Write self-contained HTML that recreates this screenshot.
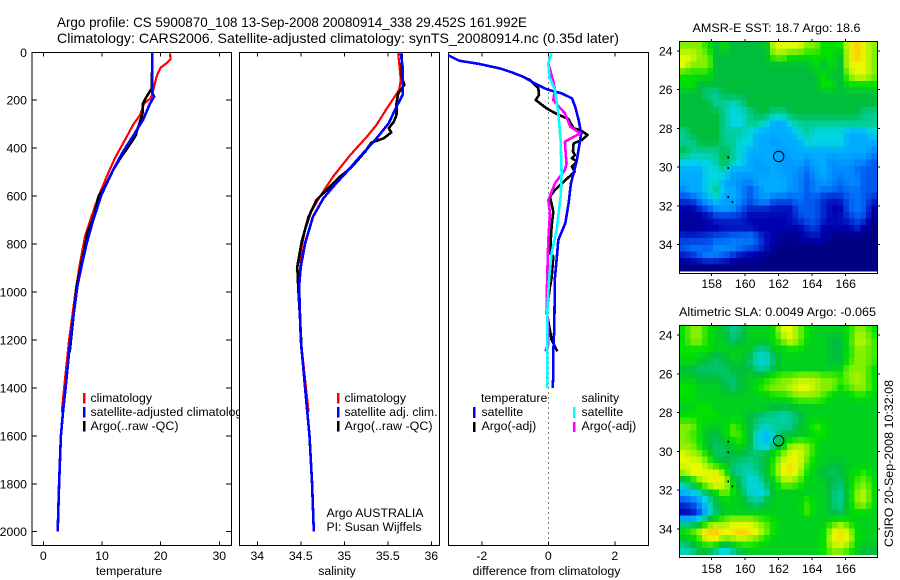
<!DOCTYPE html>
<html>
<head>
<meta charset="utf-8">
<title>Argo profile</title>
<style>
html,body{margin:0;padding:0;background:#fff;}
svg{display:block;font-family:"Liberation Sans",sans-serif;font-size:12.3px;fill:#000;}
text{fill:#000;}
</style>
</head>
<body>
<svg id="chart" width="900" height="580" viewBox="0 0 900 580" xmlns="http://www.w3.org/2000/svg">
  <defs>
    <clipPath id="clip-temp"><rect x="32" y="52" width="199.5" height="493"/></clipPath>
    <clipPath id="clip-sal"><rect x="239.5" y="52" width="200" height="493"/></clipPath>
    <clipPath id="clip-diff"><rect x="448.5" y="52" width="200" height="493"/></clipPath>
  </defs>
  <rect x="0" y="0" width="900" height="580" fill="#fff"/>
  <text x="57" y="27" font-size="14" textLength="470" lengthAdjust="spacingAndGlyphs">Argo profile: CS 5900870_108 13-Sep-2008 20080914_338 29.452S 161.992E</text>
  <text x="57" y="43" font-size="14" textLength="562" lengthAdjust="spacingAndGlyphs">Climatology: CARS2006. Satellite-adjusted climatology: synTS_20080914.nc (0.35d later)</text>

  <g id="panel-temp"></g>
  <g>
    <rect x="83" y="393" width="2.5" height="10.5" fill="#f00"/>
    <text x="90.5" y="402">climatology</text>
    <rect x="83" y="407" width="2.5" height="10.5" fill="#00f"/>
    <text x="90.5" y="416" textLength="158" lengthAdjust="spacingAndGlyphs">satellite-adjusted climatology</text>
    <rect x="83" y="421" width="2.5" height="10.5" fill="#000"/>
    <text x="90.5" y="430" textLength="88" lengthAdjust="spacingAndGlyphs">Argo(..raw -QC)</text>
  </g>
  <text x="129" y="575" text-anchor="middle">temperature</text>

  <g id="panel-sal"></g>
  <g>
    <rect x="337" y="393" width="2.5" height="10.5" fill="#f00"/>
    <text x="344.5" y="402">climatology</text>
    <rect x="337" y="407" width="2.5" height="10.5" fill="#00f"/>
    <text x="344.5" y="416" textLength="93" lengthAdjust="spacingAndGlyphs">satellite adj. clim.</text>
    <rect x="337" y="421" width="2.5" height="10.5" fill="#000"/>
    <text x="344.5" y="430" textLength="88" lengthAdjust="spacingAndGlyphs">Argo(..raw -QC)</text>
  </g>
  <text x="326.5" y="517" textLength="97" lengthAdjust="spacingAndGlyphs">Argo AUSTRALIA</text>
  <text x="326.5" y="531" textLength="95" lengthAdjust="spacingAndGlyphs">PI: Susan Wijffels</text>
  <text x="337" y="575" text-anchor="middle">salinity</text>

  <g id="panel-diff"></g>
  <g>
    <text x="481" y="402">temperature</text>
    <rect x="473" y="407" width="2.5" height="11" fill="#00f"/>
    <text x="481.5" y="416">satellite</text>
    <rect x="473" y="422" width="2.5" height="10" fill="#000"/>
    <text x="481.5" y="430">Argo(-adj)</text>
    <text x="581.5" y="402">salinity</text>
    <rect x="573" y="407" width="2.5" height="11" fill="#0ff"/>
    <text x="581.5" y="416">satellite</text>
    <rect x="573" y="422" width="2.5" height="10" fill="#f0f"/>
    <text x="581.5" y="430">Argo(-adj)</text>
  </g>
  <text x="472.5" y="575" textLength="148" lengthAdjust="spacingAndGlyphs">difference from climatology</text>

  <text x="692.5" y="32" textLength="168" lengthAdjust="spacingAndGlyphs">AMSR-E SST: 18.7 Argo: 18.6</text>
  <g id="map-sst"></g>
  <text x="679" y="316" textLength="197" lengthAdjust="spacingAndGlyphs">Altimetric SLA: 0.0049 Argo: -0.065</text>
  <g id="map-sla"></g>
  <text transform="translate(893,547) rotate(-90)" textLength="167" lengthAdjust="spacingAndGlyphs">CSIRO 20-Sep-2008 10:32:08</text>
</svg>
<script>
// ---- profile data ----
const depthTicks = [0,200,400,600,800,1000,1200,1400,1600,1800,2000];
const tempTicks = [0,10,20,30];
const salTicks = [34,34.5,35,35.5,36];
const salTickLabels = ['34','34.5','35','35.5','36'];
const diffTicks = [-2,0,2];

const tempClimDepth = [4,29,46,64,95,130,171,192,213,261,303,366,442,519,602,686,769,880,978,1200,1400,1500];
const tempClimValues = [21.6,21.7,21.0,20.0,19.4,19.0,18.6,18.3,17.2,16.5,15.3,13.9,12.2,10.8,9.4,8.2,7.1,6.25,5.6,4.4,3.55,3.15];
const tempArgoDepth = [0,150,185,213,255,296,331,345,394,442,491,560,602,672,755,811,880,978,1100,1250];
const tempArgoValues = [18.6,18.5,17.6,17.0,16.9,16.4,15.9,15.8,14.5,13.1,11.9,10.5,9.4,8.8,7.5,7.1,6.5,5.7,5.15,4.5];
const tempSatDepth = [0,170,185,213,282,338,414,491,595,700,797,894,978,1200,1400,1500,1600,1800,2000];
const tempSatValues = [18.6,18.6,18.9,18.2,17.0,15.6,13.6,11.9,9.9,8.5,7.4,6.5,5.8,4.6,3.8,3.35,3.0,2.7,2.45];

const salClimDepth = [4,115,157,185,234,303,352,428,519,602,665,741,811,964,1200,1400,1500];
const salClimValues = [35.62,35.65,35.63,35.58,35.49,35.37,35.26,35.07,34.87,34.72,34.62,34.55,34.51,34.48,34.5,34.56,34.59];
const salArgoDepth = [4,101,136,171,213,261,289,317,334,359,377,414,456,484,519,567,616,686,790,894,978,1100,1250];
const salArgoValues = [35.66,35.66,35.69,35.62,35.60,35.60,35.57,35.51,35.54,35.45,35.31,35.24,35.14,35.07,34.95,34.82,34.68,34.59,34.51,34.46,34.47,34.49,34.51];
const salSatDepth = [4,60,178,227,296,359,435,498,553,609,686,797,894,978,1200,1400,1600,1800,2000];
const salSatValues = [35.65,35.67,35.67,35.60,35.51,35.37,35.18,35.03,34.89,34.76,34.64,34.55,34.50,34.48,34.50,34.55,34.60,34.63,34.65];

const diffTempSatDepth = [11,35,49,67,83,102,134,154,164,171,192,227,282,338,380,449,505,547,630,713,783,866,943,1144,1254,1351,1400];
const diffTempSatValues = [-3.03,-2.68,-2.07,-1.46,-1.11,-0.76,-0.35,-0.05,0.2,0.4,0.71,0.81,0.91,0.99,0.94,0.86,0.76,0.68,0.61,0.51,0.3,0.25,0.2,0.18,0.15,0.15,0.13];
const diffTempArgoDepth = [11,35,49,67,83,102,115,150,178,199,234,257,278,317,324,345,366,380,414,428,442,456,477,498,574,602,665,727,839,852,943,977,1082,1144,1200,1248];
const diffTempArgoValues = [-3.03,-2.68,-2.07,-1.46,-1.11,-0.76,-0.56,-0.3,-0.28,-0.38,-0.05,0.25,0.6,0.76,0.96,1.18,1.01,0.76,0.74,0.8,0.71,0.86,0.71,0.79,0.2,0.05,0.15,0.1,0.05,0.15,0.1,0.05,-0.05,0.03,0.1,0.27];
const diffSalArgoDepth = [4,46,122,157,199,220,254,310,338,373,435,463,491,547,616,672,783,922,1050,1160,1220,1248];
const diffSalArgoValues = [0.1,0,0.15,0.2,0.15,0.27,0.5,0.66,0.96,0.5,0.53,0.55,0.5,0.2,0,0.05,0,-0.03,-0.05,0,0,-0.09];
const diffSalSatDepth = [4,46,102,157,254,366,505,602,741,839,936,1000,1090,1400];
const diffSalSatValues = [0.1,0,0.03,0.2,0.3,0.37,0.4,0.37,0.25,0.1,0.03,0,-0.03,-0.03];

// ---- map data (colour level, north to south) ----
const lonTicks = [158,160,162,164,166];
const latTicks = [24,26,28,30,32,34];
const floatLon = [162];
const floatLat = [29.45];
const islandLon = [159.0,159.0,159.0,159.25];
const islandLat = [29.5,30.05,31.55,31.8];
const sstGrid = [
[10,10,10,9,8,9,8,8,8,8,8,11,11,11,11,10,10,9,9,9,11,12,11,10],
[11,11,10,10,8,8,8,8,8,8,8,10,10,9,9,9,9,9,9,8,11,12,11,10],
[11,10,10,10,8,8,8,8,8,8,8,8,8,8,8,8,9,8,9,8,11,11,11,10],
[9,9,9,9,8,8,8,8,8,8,8,8,8,8,8,8,8,9,8,8,10,11,11,10],
[9,9,8,8,8,8,8,8,8,8,8,8,8,8,8,8,8,9,9,8,9,9,9,9],
[8,8,8,7,7,8,8,8,8,8,8,8,8,8,8,8,8,8,8,8,8,8,8,8],
[8,8,8,8,7,7,6.5,7,8,8,8,8,8,8,8,8,8,8,8,8,8,8,8,8],
[8,8,8,8,8,7,6,6,7,8,8,7,7,8,8,8,8,8,8,8,8,8,7,7],
[8,8,8,8,8,7,6,6,7,7,6,5,5,6,7,7,7,7,7,7,7,7,7,7],
[7,8,8,8,8,7,7,7,6,5,5,5,5,5,6,7,6,6,6,6,5,5,5,6],
[7,7,8,8,8,7,7,6,6,5,5,4.5,5,5,5,6,6,6,6,6,5,5,5,5],
[8,7,7,7,7,8,7,6,5,5,5,5,4.5,5,5,5,5,5,5,5,5,5,5,4],
[6,6,6,6,7,8,7,6,5,4.5,5,5,4.5,4.5,5,4,5,5,4,4.5,4.5,4,4,3],
[5,5,5,6,6,7,5,5,5,4.5,4.5,5,4.5,4.5,4,3.5,4.5,5,4,4,4,3.5,3,3],
[5,5,5,6,6,5,4.5,4,4,5,5,5,5,4.5,4,3,4,4.5,4,3.5,4,4,3,3],
[4,5,5,6,7,5,5,4,3,4,5,5,5,4,4,3,4,3.5,3.5,3,3.5,3.5,3,3],
[2.5,2.5,4,5,6,4.5,5,4,3,4,4.5,3,3,3,3.5,3,3,2,1.5,2,3,3.5,3,2],
[1,1,2,3,4,4.5,4,3,2,2,2,1.5,1.5,1.5,3,3,3,2,1,1,3,3.5,3,0.8],
[0.8,0.5,0.5,1,2,2,2,2,1,1,1,1,1,1.5,2.5,3,3,2,1,1.5,2,3,2.5,0.3],
[0.5,0.5,0.7,1,1,1.5,1.5,1.5,1.5,1,1,1,1,1,1,2,2.5,1,1,1,1,2,0.5,0],
[2.2,2,2.2,2.5,3,3,3.5,3.5,4,3,1.5,1,0.5,0,0.5,1,1.5,1,0.3,0,0,0,0,0],
[3,3.5,3.5,3,4,4,4,3.5,3,2.5,1.5,0.5,0,0,0,0,0,0,0,0,0,0,0,0],
[1.5,2,3,4,3.5,3,2,1,0.7,0.5,0.2,0,0,0,0,0,0,0,0,0,0,0,0,0],
[0,0,0,0,0,0,0,0,0,0,0,0,0,0,0,0,0,0,0,0,0,0,0,0]
];
const slaGrid = [
[9,10,10,9,8.5,8,7,7.5,8.5,8.5,8.5,9,11,11,10,9,8.5,8.5,8.5,8.5,9,10,10,9],
[9,10,10,9,8.5,8.5,7.5,8,8.5,8.5,8.5,9,10,11,10,9,8.5,8.5,8,8,9,10.5,10.5,9.5],
[9,9,9,9,8.5,8.5,8.5,8.5,8.5,7,7,8.5,8.5,9,9,8.5,8.5,8.5,8,8,9,10,10,9.5],
[9,9,8.5,8,7.5,8,8.5,8.5,7.5,6,6,7.5,8.5,8.5,8.5,8.5,8.5,8.5,8,8,9,10,10,9.5],
[8,8,7.5,7.5,7.5,7.5,8,8,8,7,7,8,8.5,8.5,8.5,8.5,8.5,8.5,8.5,8.5,10,10,10,9],
[8.5,8.5,8,8,8,7.5,7.5,8,8.5,8.5,9,9.5,10,10,10.5,10.5,10.5,10,10,9.5,10,10.5,10,9],
[9,9,8.5,8.5,8.5,8,7.5,8,8.5,9,9.5,10,10,10.5,11,11,10.5,10,10,9,9.5,10,10,9],
[9,9,8.5,8.5,8.5,8.5,8.5,8.5,8.5,8.5,8.5,9,9,9.5,10,10,10,9.5,8.5,8.5,8.5,9,9,8.5],
[8.5,8.5,9,9,8.5,8.5,8.5,8.5,8.5,8.5,8.5,8,8,8,8.5,8.5,8.5,8.5,8.5,8.5,8.5,8.5,8.5,8.5],
[9,9,9,9,9,8.5,8.5,8.5,8,7.5,7,7,6.5,7,7.5,8.5,8.5,8.5,8.5,8.5,8.5,8.5,8.5,8.5],
[10,10,9,8.5,8.5,8.5,9.5,9,8,7,6.5,7,7,7,8,8.5,9.5,9,8.5,8.5,8.5,8.5,8.5,8.5],
[10,9.5,9,8,8,8.5,9.5,9.5,8,6,5,6.5,8,8,8.5,8.5,9,9,8.5,8.5,8.5,8.5,8.5,8.5],
[10,10,9,8,7.5,8,8.5,9,8,6,5.5,7,8.5,10,10.5,10,9,8.5,8.5,8.5,8.5,8.5,8.5,8.5],
[11,10.5,10,9,7.5,7.5,8,8,7.5,7.5,8,9,10,11,11,10,9,8.5,8.5,8.5,8.5,8.5,8.5,8.5],
[11,11,11,10,9,8.5,7.5,7,7,7.5,8,9.5,11,11.5,11,9.5,8.5,8.5,8,8,8.5,8.5,8.5,8.5],
[10,11,11,11,11,10,7.5,7,6.5,7,8,9.5,11,11.5,10.5,9,8.5,8,7.5,8,8.5,9,9.5,8.5],
[7,8,10,11,11.5,11,9,7.5,6,6,7.5,8.5,10,10,9.5,8.5,8.5,8.5,8,7.5,8.5,9.5,10,9],
[5,5.5,6.5,8,9,10,9,8,6.5,5.5,6.5,8.5,8.5,8.5,8.5,8.5,8.5,8.5,7.5,7,8.5,10,10.5,9],
[2.5,3,4.5,6,8,8.5,8.5,8.5,7.5,7,8,8.5,8.5,8.5,8.5,9.5,8.5,8.5,7.5,7,8.5,10,10.5,9],
[1,1.5,3,6,7.5,8.5,8.5,8.5,8.5,8.5,8.5,8.5,8.5,8.5,8.5,9.5,8.5,8.5,8,7.5,8.5,9,9,8.5],
[6,6,7,8.5,9.5,10,10.5,10.5,10.5,10,9.5,9,8.5,8.5,8.5,8.5,8.5,8.5,9,9.5,9,8.5,8.5,8.5],
[9,9.5,10.5,12,12,11,11.5,12,11.5,11,10,9,8.5,8.5,8.5,8.5,8.5,9,10.5,11.5,10.5,9,8.5,8.5],
[8,8.5,9.5,11,11,9.5,10,10.5,10,9.5,9,8.5,8.5,8.5,8.5,8.5,8.5,9,11,11.5,11,9,8.5,8.5],
[6.5,7,8,8,7,5.5,7,8,8.5,8.5,8.5,8.5,8.5,8.5,8.5,8.5,8.5,9,10,10,9.5,8.5,8,8]
];

// ---- helpers ----
const NS = 'http://www.w3.org/2000/svg';
function mk(parent, tag, attrs, txt) {
  const el = document.createElementNS(NS, tag);
  for (const k in attrs) el.setAttribute(k, attrs[k]);
  if (txt !== undefined) el.textContent = txt;
  parent.appendChild(el);
  return el;
}
const depthScale = d => 52.3 + d * 0.2397;

function drawProfile(group, clipId, xScale, depths, values, color, width, name) {
  const pts = depths.map((d, i) => xScale(values[i]).toFixed(1) + ',' + depthScale(d).toFixed(1)).join(' ');
  const el = mk(group, 'polyline', {points: pts, fill: 'none', stroke: color, 'stroke-width': width, 'clip-path': 'url(#' + clipId + ')', 'stroke-linejoin': 'round', 'shape-rendering': 'crispEdges'});
  
  
}
function drawFrame(group, x0, x1) {
  const el = mk(group, 'rect', {x: x0, y: 52.3, width: x1 - x0, height: 493, fill: '#fff', stroke: '#000', 'stroke-width': 1, 'shape-rendering': 'crispEdges'});
  
  
}
function drawXTicks(group, ticks, labels, xScale) {
  ticks.forEach((t, i) => {
    const x = xScale(t);
    const top = mk(group, 'line', {x1: x, x2: x, y1: 52.3, y2: 56.3, stroke: '#000', 'shape-rendering': 'crispEdges'});
    
    
    const bot = mk(group, 'line', {x1: x, x2: x, y1: 541.3, y2: 545.3, stroke: '#000', 'shape-rendering': 'crispEdges'});
    
    
    const lab = mk(group, 'text', {x: x, y: 560, 'text-anchor': 'middle'}, labels[i]);
    
    
  });
}

// ---- temperature panel ----
const tempX = v => 43.3 + v * 5.867;
const gTemp = document.getElementById('panel-temp');
drawFrame(gTemp, 32, 231.3);
drawXTicks(gTemp, tempTicks, tempTicks.map(String), tempX);
depthTicks.forEach(d => {
  const y = depthScale(d);
  const l = mk(gTemp, 'line', {x1: 32, x2: 37, y1: y, y2: y, stroke: '#000', 'shape-rendering': 'crispEdges'});
  
  
  const r = mk(gTemp, 'line', {x1: 226, x2: 231.3, y1: y, y2: y, stroke: '#000', 'shape-rendering': 'crispEdges'});
  
  
  const t = mk(gTemp, 'text', {x: 27, y: y + 4.5, 'text-anchor': 'end'}, String(d));
  
  
});
drawProfile(gTemp, 'clip-temp', tempX, tempClimDepth, tempClimValues, '#f00', 2.2, 'temperature-climatology-line');
drawProfile(gTemp, 'clip-temp', tempX, tempArgoDepth, tempArgoValues, '#000', 2.6, 'temperature-argo-line');
drawProfile(gTemp, 'clip-temp', tempX, tempSatDepth, tempSatValues, '#00f', 2.6, 'temperature-satellite-line');

// ---- salinity panel ----
const salX = v => 257.3 + (v - 34) * 87;
const gSal = document.getElementById('panel-sal');
drawFrame(gSal, 239.5, 439.5);
drawXTicks(gSal, salTicks, salTickLabels, salX);
drawProfile(gSal, 'clip-sal', salX, salClimDepth, salClimValues, '#f00', 2.2, 'salinity-climatology-line');
drawProfile(gSal, 'clip-sal', salX, salArgoDepth, salArgoValues, '#000', 2.6, 'salinity-argo-line');
drawProfile(gSal, 'clip-sal', salX, salSatDepth, salSatValues, '#00f', 2.6, 'salinity-satellite-line');

// ---- difference panel ----
const diffX = v => 548.3 + v * 33.25;
const gDiff = document.getElementById('panel-diff');
drawFrame(gDiff, 448.5, 648.5);
drawXTicks(gDiff, diffTicks, diffTicks.map(String), diffX);
const zero = mk(gDiff, 'line', {x1: diffX(0), x2: diffX(0), y1: 52.3, y2: 545, stroke: '#000', 'stroke-dasharray': '1 4', 'shape-rendering': 'crispEdges'});


drawProfile(gDiff, 'clip-diff', diffX, diffTempArgoDepth, diffTempArgoValues, '#000', 2.6, 'difference-temperature-argo-line');
drawProfile(gDiff, 'clip-diff', diffX, diffTempSatDepth, diffTempSatValues, '#00f', 2.6, 'difference-temperature-satellite-line');
drawProfile(gDiff, 'clip-diff', diffX, diffSalArgoDepth, diffSalArgoValues, '#f0f', 2.6, 'difference-salinity-argo-line');
drawProfile(gDiff, 'clip-diff', diffX, diffSalSatDepth, diffSalSatValues, '#0ff', 2.6, 'difference-salinity-satellite-line');

// ---- maps ----
const levelColors = [
 [0,0,130],[0,0,175],[0,40,205],[0,90,240],[0,140,255],[0,172,255],[0,215,225],
 [0,205,150],[0,190,60],[0,225,0],[130,240,0],[230,250,0],[255,205,0],[255,130,20]
];
function levelColor(v) {
  const c = Math.max(0, Math.min(levelColors.length - 1, v));
  const i = Math.min(Math.floor(c), levelColors.length - 2);
  const f = c - i;
  const a = levelColors[i], b = levelColors[i + 1];
  return 'rgb(' + [0,1,2].map(k => Math.round(a[k] + (b[k] - a[k]) * f)).join(',') + ')';
}
function sampleGrid(grid, u, v) {
  const rows = grid.length, cols = grid[0].length;
  const fx = Math.max(0, Math.min(cols - 1, u * cols - 0.5));
  const fy = Math.max(0, Math.min(rows - 1, v * rows - 0.5));
  const x0 = Math.min(Math.floor(fx), cols - 2), y0 = Math.min(Math.floor(fy), rows - 2);
  const dx = fx - x0, dy = fy - y0;
  return (grid[y0][x0] * (1 - dx) + grid[y0][x0 + 1] * dx) * (1 - dy) + (grid[y0 + 1][x0] * (1 - dx) + grid[y0 + 1][x0 + 1] * dx) * dy;
}
function drawMap(group, grid, cfg) {
  const lonX = lon => 711.7 + (lon - 158) * 16.75;
  const latY = lat => cfg.y24 + (lat - 24) * cfg.dy;
  const left = 679.3, right = 877.3;
  const frame = mk(group, 'rect', {x: left, y: cfg.top, width: right - left, height: cfg.axisBottom - cfg.top, fill: '#fff', stroke: '#000', 'stroke-width': 1, 'shape-rendering': 'crispEdges'});
  
  
  const nCols = 35, nRows = 35;
  const cw = (right - left) / nCols;
  const ch = (cfg.imgBottom - cfg.top) / nRows;
  for (let r = 0; r < nRows; r++) {
    for (let c = 0; c < nCols; c++) {
      const v = sampleGrid(grid, (c + 0.5) / nCols, (r + 0.5) / nRows);
      const cell = mk(group, 'rect', {x: left + c * cw, y: cfg.top + r * ch, width: cw + 0.5, height: ch + 0.5, fill: levelColor(v), 'shape-rendering': 'crispEdges'});
      
      
    }
  }
  const border = mk(group, 'rect', {x: left, y: cfg.top, width: right - left, height: cfg.axisBottom - cfg.top, fill: 'none', stroke: '#000', 'stroke-width': 1, 'shape-rendering': 'crispEdges'});
  
  
  lonTicks.forEach(t => {
    const x = lonX(t);
    const a = mk(group, 'line', {x1: x, x2: x, y1: cfg.top - 2.5, y2: cfg.top, stroke: '#000', 'shape-rendering': 'crispEdges'});
    
    
    const b = mk(group, 'line', {x1: x, x2: x, y1: cfg.axisBottom, y2: cfg.axisBottom + 2.5, stroke: '#000', 'shape-rendering': 'crispEdges'});
    
    
    const t2 = mk(group, 'text', {x: x, y: cfg.labelY, 'text-anchor': 'middle'}, String(t));
    
    
  });
  latTicks.forEach(t => {
    const y = latY(t);
    const a = mk(group, 'line', {x1: left - 2.5, x2: left, y1: y, y2: y, stroke: '#000', 'shape-rendering': 'crispEdges'});
    
    
    const b = mk(group, 'line', {x1: right, x2: right + 2.5, y1: y, y2: y, stroke: '#000', 'shape-rendering': 'crispEdges'});
    
    
    const t2 = mk(group, 'text', {x: 672.5, y: y + 4.5, 'text-anchor': 'end'}, String(t));
    
    
  });
  islandLon.forEach((lon, i) => {
    const d = mk(group, 'rect', {x: lonX(lon) - 1, y: latY(islandLat[i]) - 1, width: 1.6, height: 2, fill: '#000'});
    
    
  });
  floatLon.forEach((lon, i) => {
    const m = mk(group, 'circle', {cx: lonX(lon), cy: latY(floatLat[i]), r: 5.2, fill: 'none', stroke: '#000', 'stroke-width': 1});
    
    
  });
}
drawMap(document.getElementById('map-sst'), sstGrid, {top: 41.7, imgBottom: 271, axisBottom: 273.3, y24: 51, dy: 19.35, labelY: 288});
drawMap(document.getElementById('map-sla'), slaGrid, {top: 325.7, imgBottom: 554.7, axisBottom: 557.3, y24: 335, dy: 19.4, labelY: 573});
</script>
</body>
</html>
